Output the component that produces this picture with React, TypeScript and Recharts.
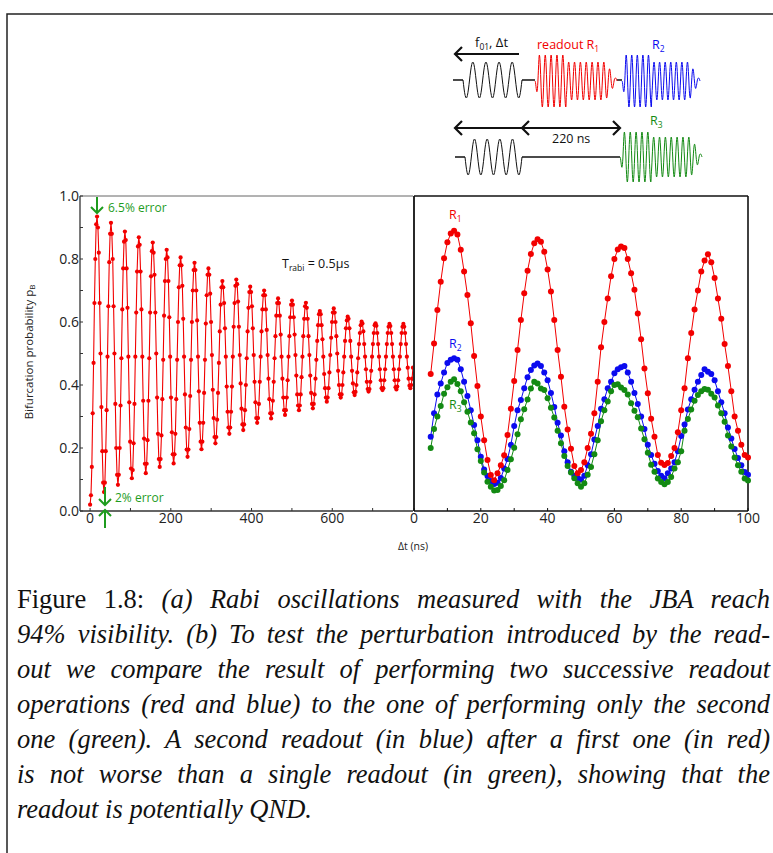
import { LineChart, Line, XAxis, YAxis } from 'recharts';

const RED = '#f20000';
const BLUE = '#0b0bef';
const GREEN = '#138a13';
const NOTE_GREEN = '#1e9c1e';
const AXIS = '#333';

// (a) Rabi oscillation, one sample every RABI_DT_NS starting at 0 ns
const RABI_DT_NS = 2.156;
const RABI_PB = [
  0.02, 0.05, 0.14, 0.31, 0.47, 0.66, 0.8, 0.91, 0.935, 0.9, 0.82, 0.66, 0.5, 0.33, 0.19, 0.09,
  0.06, 0.09, 0.19, 0.32, 0.49, 0.65, 0.79, 0.88, 0.915, 0.88, 0.8, 0.65, 0.5, 0.34, 0.2, 0.115,
  0.083, 0.115, 0.2, 0.335, 0.485, 0.64, 0.77, 0.855, 0.887, 0.86, 0.77, 0.645, 0.49, 0.345, 0.22, 0.135,
  0.104, 0.13, 0.215, 0.34, 0.49, 0.63, 0.76, 0.84, 0.869, 0.845, 0.76, 0.64, 0.49, 0.35, 0.23, 0.15,
  0.12, 0.15, 0.225, 0.35, 0.485, 0.63, 0.745, 0.825, 0.852, 0.82, 0.75, 0.63, 0.5, 0.36, 0.245, 0.165,
  0.14, 0.165, 0.24, 0.355, 0.48, 0.62, 0.73, 0.8, 0.829, 0.805, 0.73, 0.615, 0.49, 0.36, 0.25, 0.18,
  0.151, 0.18, 0.245, 0.355, 0.48, 0.6, 0.71, 0.78, 0.805, 0.78, 0.715, 0.61, 0.49, 0.37, 0.265, 0.195,
  0.172, 0.195, 0.26, 0.365, 0.48, 0.6, 0.7, 0.765, 0.788, 0.765, 0.7, 0.605, 0.49, 0.38, 0.28, 0.22,
  0.196, 0.22, 0.28, 0.375, 0.48, 0.595, 0.685, 0.75, 0.77, 0.75, 0.69, 0.6, 0.495, 0.385, 0.295, 0.235,
  0.215, 0.235, 0.29, 0.375, 0.47, 0.57, 0.655, 0.71, 0.73, 0.71, 0.66, 0.58, 0.49, 0.395, 0.315, 0.265,
  0.245, 0.265, 0.315, 0.395, 0.49, 0.585, 0.66, 0.715, 0.735, 0.72, 0.665, 0.585, 0.495, 0.405, 0.325, 0.275,
  0.257, 0.275, 0.32, 0.4, 0.485, 0.57, 0.645, 0.695, 0.712, 0.695, 0.65, 0.58, 0.495, 0.41, 0.345, 0.295,
  0.28, 0.295, 0.34, 0.41, 0.49, 0.57, 0.64, 0.685, 0.7, 0.685, 0.64, 0.575, 0.495, 0.42, 0.355, 0.31,
  0.294, 0.31, 0.35, 0.41, 0.485, 0.555, 0.62, 0.66, 0.675, 0.66, 0.62, 0.56, 0.49, 0.42, 0.36, 0.32,
  0.305, 0.32, 0.36, 0.415, 0.49, 0.555, 0.615, 0.655, 0.668, 0.655, 0.615, 0.56, 0.495, 0.43, 0.37, 0.335,
  0.32, 0.335, 0.37, 0.425, 0.49, 0.555, 0.61, 0.65, 0.661, 0.645, 0.61, 0.555, 0.495, 0.43, 0.375, 0.34,
  0.326, 0.34, 0.37, 0.42, 0.48, 0.54, 0.59, 0.625, 0.635, 0.625, 0.59, 0.545, 0.49, 0.435, 0.39, 0.36,
  0.347, 0.36, 0.39, 0.44, 0.495, 0.55, 0.6, 0.63, 0.643, 0.63, 0.6, 0.555, 0.5, 0.445, 0.4, 0.37,
  0.36, 0.37, 0.4, 0.44, 0.49, 0.54, 0.58, 0.605, 0.617, 0.61, 0.58, 0.54, 0.49, 0.445, 0.405, 0.377,
  0.368, 0.378, 0.4, 0.44, 0.485, 0.53, 0.565, 0.59, 0.601, 0.595, 0.57, 0.53, 0.49, 0.45, 0.41, 0.387,
  0.379, 0.387, 0.41, 0.445, 0.49, 0.53, 0.565, 0.59, 0.596, 0.588, 0.565, 0.53, 0.49, 0.45, 0.415, 0.39,
  0.384, 0.39, 0.415, 0.45, 0.49, 0.53, 0.565, 0.585, 0.594, 0.587, 0.565, 0.53, 0.49, 0.45, 0.415, 0.393,
  0.386, 0.395, 0.415, 0.45, 0.49, 0.53, 0.565, 0.585, 0.594, 0.585, 0.565, 0.53, 0.49, 0.455, 0.42, 0.398,
  0.39, 0.4, 0.42, 0.455,
];

// (b) readout comparison, one point per ns from 5 ns to 100 ns
const DELAY_START_NS = 5;
const R1_PB = [
  0.435, 0.532, 0.638, 0.728, 0.802, 0.853, 0.881, 0.89,
  0.878, 0.829, 0.76, 0.686, 0.596, 0.492, 0.397, 0.3,
  0.225, 0.162, 0.114, 0.098, 0.12, 0.145, 0.177, 0.241,
  0.325, 0.413, 0.511, 0.606, 0.691, 0.763, 0.816, 0.85,
  0.863, 0.855, 0.823, 0.767, 0.697, 0.606, 0.511, 0.426,
  0.331, 0.259, 0.198, 0.143, 0.12, 0.13, 0.155, 0.2,
  0.245, 0.31, 0.41, 0.52, 0.6, 0.675, 0.745, 0.8,
  0.83, 0.84, 0.835, 0.8, 0.755, 0.702, 0.627, 0.545,
  0.452, 0.374, 0.293, 0.236, 0.178, 0.153, 0.146, 0.152,
  0.175, 0.2, 0.25, 0.32, 0.39, 0.485, 0.565, 0.64,
  0.7, 0.76, 0.795, 0.815, 0.79, 0.74, 0.675, 0.61,
  0.53, 0.46, 0.38, 0.3, 0.255, 0.21, 0.178, 0.17,
];
const R2_PB = [
  0.236, 0.31, 0.37, 0.405, 0.44, 0.47, 0.48, 0.485,
  0.48, 0.45, 0.41, 0.365, 0.32, 0.273, 0.225, 0.172,
  0.132, 0.111, 0.095, 0.086, 0.09, 0.105, 0.135, 0.165,
  0.21, 0.27, 0.32, 0.352, 0.39, 0.425, 0.448, 0.462,
  0.468, 0.46, 0.44, 0.415, 0.375, 0.33, 0.28, 0.24,
  0.19, 0.155, 0.125, 0.112, 0.105, 0.1, 0.112, 0.145,
  0.18, 0.227, 0.27, 0.325, 0.355, 0.39, 0.41, 0.437,
  0.45, 0.456, 0.46, 0.44, 0.41, 0.375, 0.34, 0.3,
  0.26, 0.21, 0.178, 0.15, 0.127, 0.112, 0.104, 0.12,
  0.135, 0.155, 0.19, 0.238, 0.275, 0.322, 0.355, 0.385,
  0.41, 0.432, 0.45, 0.442, 0.435, 0.415, 0.38, 0.345,
  0.31, 0.265, 0.23, 0.197, 0.168, 0.145, 0.124, 0.115,
];
const R3_PB = [
  0.2, 0.26, 0.3, 0.333, 0.372, 0.393, 0.41, 0.418,
  0.403, 0.38, 0.345, 0.315, 0.281, 0.247, 0.196, 0.159,
  0.122, 0.093, 0.077, 0.065, 0.067, 0.079, 0.098, 0.13,
  0.164, 0.201, 0.244, 0.291, 0.323, 0.354, 0.389, 0.41,
  0.405, 0.389, 0.384, 0.358, 0.328, 0.297, 0.255, 0.215,
  0.175, 0.143, 0.122, 0.104, 0.088, 0.077, 0.088, 0.115,
  0.14, 0.18, 0.225, 0.285, 0.32, 0.348, 0.38, 0.4,
  0.402, 0.392, 0.384, 0.37, 0.342, 0.318, 0.298, 0.262,
  0.228, 0.185, 0.147, 0.125, 0.103, 0.092, 0.085, 0.092,
  0.108, 0.135, 0.155, 0.19, 0.255, 0.292, 0.322, 0.35,
  0.368, 0.38, 0.387, 0.385, 0.372, 0.36, 0.335, 0.31,
  0.283, 0.24, 0.205, 0.17, 0.145, 0.125, 0.103, 0.097,
];

const RABI_TICKS = [0, 100, 200, 300, 400, 500, 600, 700];
const RABI_LABELS = [0, 200, 400, 600];
const DELAY_TICKS = [0, 10, 20, 30, 40, 50, 60, 70, 80, 90, 100];
const PB_TICKS = [0, 0.1, 0.2, 0.3, 0.4, 0.5, 0.6, 0.7, 0.8, 0.9, 1];

const CAPTION = [
  '94% visibility. (b) To test the perturbation introduced by the read-',
  'out we compare the result of performing two successive readout',
  'operations (red and blue) to the one of performing only the second',
  'one (green). A second readout (in blue) after a first one (in red)',
  'is not worse than a single readout (in green), showing that the',
];

const SANS = '"Open Sans", "DejaVu Sans", sans-serif';
const tickStyle = { fontSize: 14, fill: '#222', fontFamily: SANS };
const fmtPb = (v: number) => (Math.round(v * 10) % 2 === 0 ? v.toFixed(1) : '');

const rabiRows = RABI_PB.map((p, i) => ({ t: i * RABI_DT_NS, p }));
const readoutRows = R1_PB.map((r1, i) => ({
  t: DELAY_START_NS + i,
  r1,
  r2: R2_PB[i],
  r3: R3_PB[i],
}));

// schematic microwave pulse: sine under an envelope, u runs 0..1 along the pulse
function pulsePath(x0: number, x1: number, yc: number, cycles: number, env: (u: number) => number) {
  const n = Math.round(cycles * 24);
  let d = '';
  for (let i = 0; i <= n; i++) {
    const u = i / n;
    const x = x0 + u * (x1 - x0);
    const y = yc + env(u) * Math.sin(2 * Math.PI * cycles * u);
    d += (i ? 'L' : 'M') + x.toFixed(2) + ' ' + y.toFixed(2);
  }
  return d;
}

const readoutEnv = (a1: number, a2: number) => (u: number) => {
  if (u < 0.05) return (a1 * u) / 0.05;
  if (u < 0.38) return a1;
  if (u < 0.86) return a2;
  return Math.max(3, (a2 * (1 - u)) / 0.14);
};

function Schematic() {
  const k = { fill: 'none', stroke: '#111', strokeWidth: 2.2 };
  return (
    <g>
      {/* top sequence: Rabi pulse, R1, R2 */}
      <path d="M455 54 H519" {...k} />
      <path d="M462 47 L455 54 L462 61" {...k} />
      <path d="M453 80 H463 M522 80 H535 M617 80 H622" fill="none" stroke="#111" strokeWidth={1.6} />
      <path d={pulsePath(463, 522, 80, 4.5, () => 18)} fill="none" stroke="#111" strokeWidth={1} />
      <path d={pulsePath(535, 617, 81, 14, readoutEnv(26, 19))} fill="none" stroke={RED} strokeWidth={1} />
      <path d={pulsePath(622, 700, 81, 14, readoutEnv(26, 19))} fill="none" stroke={BLUE} strokeWidth={1} />
      <text x={475} y={47} fontSize={13} fontFamily={SANS} fill="#111">
        f<tspan fontSize={8.5} dy={3}>01</tspan>
        <tspan dy={-3}>, Δt</tspan>
      </text>
      <text x={537} y={49} fontSize={12.5} fontFamily={SANS} fill={RED}>
        readout R<tspan fontSize={8.5} dy={3}>1</tspan>
      </text>
      <text x={652} y={49} fontSize={12.5} fontFamily={SANS} fill={BLUE}>
        R<tspan fontSize={8.5} dy={3}>2</tspan>
      </text>

      {/* bottom sequence: Rabi pulse, 220 ns wait, R3 */}
      <path d="M455 128 H620" {...k} />
      <path d="M462 121 L455 128 L462 135 M529 121 L522 128 L529 135 M613 121 L620 128 L613 135" {...k} />
      <path d="M455 157 H465 M522 157 H620" fill="none" stroke="#111" strokeWidth={1.6} />
      <path d={pulsePath(465, 522, 157, 4.5, () => 18)} fill="none" stroke="#111" strokeWidth={1} />
      <path d={pulsePath(620, 702, 157, 14, readoutEnv(25, 20))} fill="none" stroke={GREEN} strokeWidth={1} />
      <text x={552} y={143} fontSize={12.5} fontFamily={SANS} fill="#111">220 ns</text>
      <text x={650} y={125} fontSize={12.5} fontFamily={SANS} fill={GREEN}>
        R<tspan fontSize={8.5} dy={3}>3</tspan>
      </text>
    </g>
  );
}

function Annotations() {
  const g = { fill: 'none', stroke: NOTE_GREEN, strokeWidth: 2 };
  return (
    <g>
      <text x={33} y={352} transform="rotate(-90 33 352)" textAnchor="middle" fontSize={11.5} fontFamily={SANS} fill="#222">
        Bifurcation probability p<tspan fontSize={8} dy={2}>B</tspan>
      </text>
      <text x={282} y={268} fontSize={12.5} fontFamily={SANS} fill="#111">
        T<tspan fontSize={8.5} dy={3}>rabi</tspan>
        <tspan dy={-3}> = 0.5µs</tspan>
      </text>
      <text x={413} y={550} textAnchor="middle" fontSize={10.5} fontFamily={SANS} fill="#222">Δt (ns)</text>

      <path d="M97 197 V213 M91 207 L97 213 L103 207" {...g} />
      <text x={108} y={212} fontSize={12} fontFamily={SANS} fill={NOTE_GREEN}>6.5% error</text>
      <path d="M105 487 V505 M99 499 L105 505 L111 499" {...g} />
      <path d="M105 528 V510 M99 516 L105 510 L111 516" {...g} />
      <text x={115} y={502} fontSize={12} fontFamily={SANS} fill={NOTE_GREEN}>2% error</text>

      <text x={449} y={219} fontSize={12.5} fontFamily={SANS} fill={RED}>
        R<tspan fontSize={8.5} dy={3}>1</tspan>
      </text>
      <text x={449} y={348} fontSize={12.5} fontFamily={SANS} fill={BLUE}>
        R<tspan fontSize={8.5} dy={3}>2</tspan>
      </text>
      <text x={449} y={409} fontSize={12.5} fontFamily={SANS} fill={GREEN}>
        R<tspan fontSize={8.5} dy={3}>3</tspan>
      </text>
    </g>
  );
}

export default function App() {
  const captionLine = {
    textAlign: 'justify' as const,
    textAlignLast: 'justify' as const,
  };
  return (
    <div style={{ position: 'absolute', left: 0, top: 0, width: 773, height: 853, background: '#fff' }}>
      <div style={{ position: 'absolute', left: 20, top: 186 }}>
        <LineChart width={400} height={355} data={rabiRows} margin={{ top: 9, right: 7, bottom: 0, left: 0 }}>
          <XAxis
            dataKey="t"
            type="number"
            domain={[-25, 800]}
            ticks={RABI_TICKS}
            interval={0}
            tickFormatter={(v: number) => (RABI_LABELS.includes(v) ? String(v) : '')}
            tickSize={-3}
            tickMargin={5}
            height={30}
            stroke={AXIS}
            axisLine={{ stroke: AXIS, strokeWidth: 1.3 }}
            tick={tickStyle}
            allowDataOverflow
          />
          <XAxis
            xAxisId="top"
            orientation="top"
            dataKey="t"
            type="number"
            domain={[-25, 800]}
            ticks={RABI_TICKS}
            interval={0}
            tick={false}
            tickSize={-3}
            height={1}
            stroke="#666"
            allowDataOverflow
          />
          <YAxis
            type="number"
            domain={[0, 1]}
            ticks={PB_TICKS}
            interval={0}
            tickFormatter={fmtPb}
            width={60}
            tickSize={-3}
            tickMargin={4}
            stroke={AXIS}
            axisLine={{ stroke: AXIS, strokeWidth: 1.3 }}
            tick={tickStyle}
          />
          <Line
            dataKey="p"
            type="linear"
            stroke={RED}
            strokeWidth={1.1}
            dot={{ r: 2.1, fill: RED, stroke: RED, strokeWidth: 0 }}
            activeDot={false}
            isAnimationActive={false}
          />
        </LineChart>
      </div>

      <div style={{ position: 'absolute', left: 404, top: 186 }}>
        <LineChart width={364} height={355} data={readoutRows} margin={{ top: 9, right: 19, bottom: 0, left: 9 }}>
          <XAxis
            dataKey="t"
            type="number"
            domain={[0, 100]}
            ticks={DELAY_TICKS}
            interval={0}
            tickFormatter={(v: number) => (v % 20 === 0 ? String(v) : '')}
            tickSize={-3}
            tickMargin={5}
            height={30}
            stroke="#111"
            axisLine={{ stroke: '#111', strokeWidth: 1.6 }}
            tick={tickStyle}
          />
          <XAxis
            xAxisId="top"
            orientation="top"
            dataKey="t"
            type="number"
            domain={[0, 100]}
            ticks={DELAY_TICKS}
            interval={0}
            tick={false}
            tickSize={-3}
            height={1}
            stroke="#111"
            axisLine={{ stroke: '#111', strokeWidth: 1.6 }}
          />
          <YAxis
            type="number"
            domain={[0, 1]}
            ticks={PB_TICKS}
            interval={0}
            tick={false}
            tickSize={-3}
            width={1}
            stroke="#111"
            axisLine={{ stroke: '#111', strokeWidth: 1.8 }}
          />
          <YAxis
            yAxisId="right"
            orientation="right"
            type="number"
            domain={[0, 1]}
            ticks={PB_TICKS}
            interval={0}
            tick={false}
            tickSize={-3}
            width={1}
            stroke="#111"
            axisLine={{ stroke: '#111', strokeWidth: 1.6 }}
          />
          <Line dataKey="r2" type="linear" stroke={BLUE} strokeWidth={1} dot={{ r: 3, fill: BLUE, stroke: BLUE, strokeWidth: 0 }} activeDot={false} isAnimationActive={false} />
          <Line dataKey="r3" type="linear" stroke={GREEN} strokeWidth={1} dot={{ r: 3, fill: GREEN, stroke: GREEN, strokeWidth: 0 }} activeDot={false} isAnimationActive={false} />
          <Line dataKey="r1" type="linear" stroke={RED} strokeWidth={1} dot={{ r: 3, fill: RED, stroke: RED, strokeWidth: 0 }} activeDot={false} isAnimationActive={false} />
        </LineChart>
      </div>

      <svg width={773} height={853} style={{ position: 'absolute', left: 0, top: 0, pointerEvents: 'none' }}>
        <path d="M773 14 H7 V853" fill="none" stroke="#222" strokeWidth={1.5} />
        <Schematic />
        <Annotations />
      </svg>

      <div
        style={{
          position: 'absolute',
          left: 17,
          top: 582,
          width: 753,
          fontFamily: '"Liberation Serif", "Times New Roman", serif',
          fontSize: 26.5,
          lineHeight: '35px',
          color: '#111',
        }}
      >
        <div style={captionLine}>
          Figure 1.8: <i>(a) Rabi oscillations measured with the JBA reach</i>
        </div>
        {CAPTION.map((line) => (
          <div key={line} style={captionLine}>
            <i>{line}</i>
          </div>
        ))}
        <div>
          <i>readout is potentially QND.</i>
        </div>
      </div>
    </div>
  );
}
